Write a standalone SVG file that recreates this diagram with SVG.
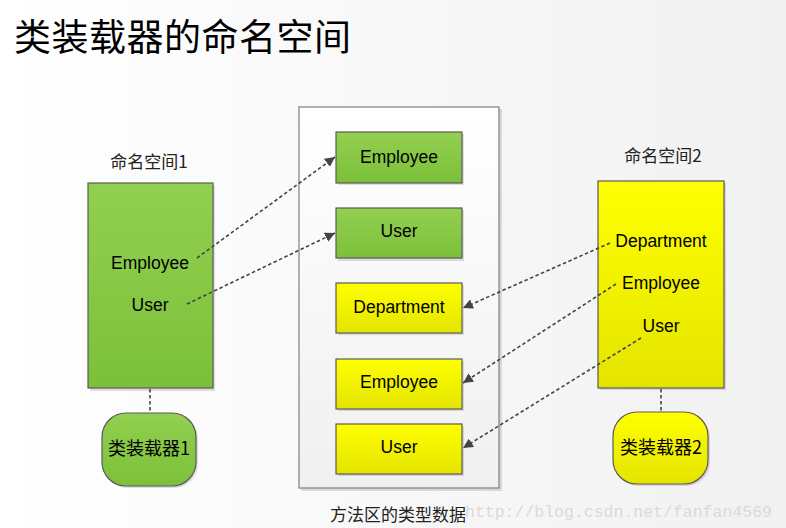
<svg xmlns="http://www.w3.org/2000/svg" width="786" height="528" viewBox="0 0 786 528">
<style>
.lat{font-family:"Liberation Sans","Noto Sans CJK SC",sans-serif;font-size:17.5px;fill:#000;text-anchor:middle}
.cjk{font-family:"Noto Sans CJK SC","Liberation Sans",sans-serif;text-anchor:middle}
.green{fill:url(#gg);stroke:#5a5a5a;stroke-width:1.2}
.yellow{fill:url(#yg);stroke:#5a5a5a;stroke-width:1.2}
.shadow{fill:#000;opacity:0.12}
.conn{fill:none;stroke:#444;stroke-width:1.6;stroke-dasharray:3.5 2.5}
</style>
<defs>
<linearGradient id="bg" x1="0" y1="0" x2="1" y2="0"><stop offset="0" stop-color="#ffffff"/><stop offset="1" stop-color="#f1f1f1"/></linearGradient>
<linearGradient id="gg" x1="0" y1="0" x2="0" y2="1"><stop offset="0" stop-color="#92d050"/><stop offset="1" stop-color="#7cc03a"/></linearGradient>
<linearGradient id="yg" x1="0" y1="0" x2="0" y2="1"><stop offset="0" stop-color="#ffff00"/><stop offset="1" stop-color="#e4e400"/></linearGradient>
<linearGradient id="cg" x1="0" y1="0" x2="0" y2="1"><stop offset="0" stop-color="#ffffff"/><stop offset="1" stop-color="#f0f0f0"/></linearGradient>
<marker id="arr" viewBox="0 0 10 10" refX="10" refY="5" markerWidth="10" markerHeight="10" markerUnits="userSpaceOnUse" orient="auto"><path d="M0,0 L10,5 L0,10 z" fill="#444"/></marker>
</defs>
<rect width="786" height="528" fill="url(#bg)"/>
<text x="14" y="51" font-family="Noto Sans CJK SC,Liberation Sans,sans-serif" font-size="37" letter-spacing="0.5" fill="#000">类装载器的命名空间</text>

<g id="method-area">
<rect class="shadow" x="301" y="109" width="201" height="382"/>
<rect x="299" y="107" width="200" height="381" fill="url(#cg)" stroke="#7f7f7f" stroke-width="1.2"/>
<text class="cjk" x="398" y="521" font-size="17" fill="#222">方法区的类型数据</text>
</g>
<g id="ma-employee-g">
<rect class="shadow" x="338" y="134" width="126" height="51"/>
<rect class="green" x="336" y="132" width="126" height="51"/>
<text class="lat" x="399" y="163">Employee</text>
</g>
<g id="ma-user-g">
<rect class="shadow" x="338" y="210" width="126" height="51"/>
<rect class="green" x="336" y="208" width="126" height="50"/>
<text class="lat" x="399" y="237">User</text>
</g>
<g id="ma-department-y">
<rect class="shadow" x="338" y="285" width="126" height="50"/>
<rect class="yellow" x="336" y="283" width="126" height="50"/>
<text class="lat" x="399" y="313">Department</text>
</g>
<g id="ma-employee-y">
<rect class="shadow" x="338" y="361" width="126" height="50"/>
<rect class="yellow" x="336" y="359" width="126" height="50"/>
<text class="lat" x="399" y="388">Employee</text>
</g>
<g id="ma-user-y">
<rect class="shadow" x="338" y="426" width="126" height="50"/>
<rect class="yellow" x="336" y="424" width="126" height="50"/>
<text class="lat" x="399" y="453">User</text>
</g>

<g id="namespace1">
<text class="cjk" x="149" y="168" font-size="17" fill="#222">命名空间1</text>
<rect class="shadow" x="90" y="185" width="125" height="206"/>
<rect class="green" x="88" y="183" width="125" height="205"/>
<text class="lat" x="150" y="269">Employee</text>
<text class="lat" x="150" y="311">User</text>
</g>
<g id="namespace2">
<text class="cjk" x="663" y="162" font-size="17" fill="#222">命名空间2</text>
<rect class="shadow" x="600" y="183" width="126" height="207"/>
<rect class="yellow" x="598" y="181" width="126" height="207"/>
<text class="lat" x="661" y="247">Department</text>
<text class="lat" x="661" y="289">Employee</text>
<text class="lat" x="661" y="332">User</text>
</g>
<g id="loader1">
<rect class="shadow" x="104" y="415" width="94" height="73" rx="24"/>
<rect class="green" x="102" y="413" width="94" height="73" rx="24"/>
<text class="cjk" x="149" y="455" font-size="18">类装载器1</text>
</g>
<g id="loader2">
<rect class="shadow" x="615" y="414" width="95" height="72" rx="24"/>
<rect class="yellow" x="613" y="412" width="95" height="72" rx="24"/>
<text class="cjk" x="661" y="454" font-size="18">类装载器2</text>
</g>

<g id="connectors">
<line class="conn" x1="150" y1="389" x2="150" y2="413"/>
<line class="conn" x1="661" y1="389" x2="661" y2="412"/>
<line class="conn" x1="197" y1="258" x2="335" y2="157" marker-end="url(#arr)"/>
<line class="conn" x1="187" y1="304" x2="335" y2="233" marker-end="url(#arr)"/>
<line class="conn" x1="610" y1="243" x2="463" y2="308" marker-end="url(#arr)"/>
<line class="conn" x1="616" y1="284" x2="463" y2="383" marker-end="url(#arr)"/>
<line class="conn" x1="641" y1="338" x2="463" y2="448" marker-end="url(#arr)"/>
</g>

<text x="465" y="517" font-family="Liberation Mono,monospace" font-size="16.5" fill="#dadada">http://blog.csdn.net/fanfan4569</text>
</svg>
